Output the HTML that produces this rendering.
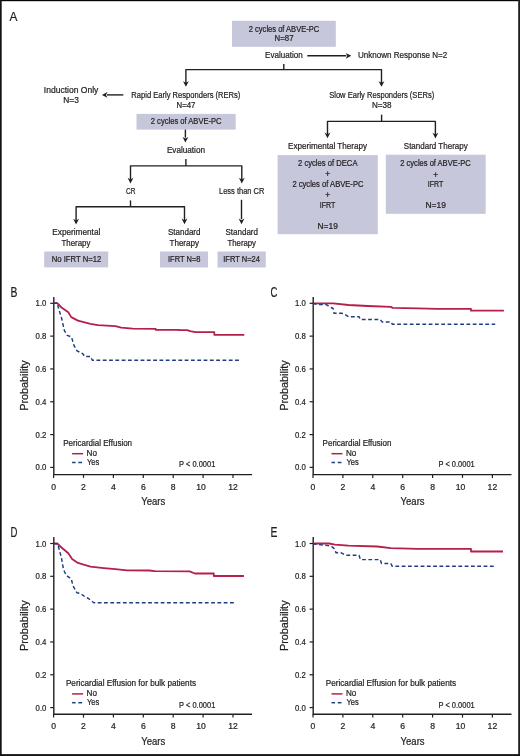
<!DOCTYPE html>
<html><head><meta charset="utf-8"><style>
html,body{margin:0;padding:0;background:#fff;}
body{width:520px;height:756px;overflow:hidden;}
svg{display:block;font-family:"Liberation Sans",sans-serif;will-change:transform;}
text{stroke:#231f20;stroke-width:0.22px;}
</style></head><body>
<svg width="520" height="756" viewBox="0 0 520 756">
<rect x="0" y="0" width="520" height="756" fill="#fff"/>
<text x="9.40" y="20.90" font-size="13" textLength="7.90" lengthAdjust="spacingAndGlyphs" fill="#231f20" >A</text>
<rect x="232.00" y="20.80" width="103.80" height="26.00" fill="#c6c7da"/>
<text x="248.80" y="31.60" font-size="8.4" textLength="70.40" lengthAdjust="spacingAndGlyphs" fill="#231f20" >2 cycles of ABVE-PC</text>
<text x="274.60" y="41.30" font-size="8.4" textLength="18.90" lengthAdjust="spacingAndGlyphs" fill="#231f20" >N=87</text>
<text x="265.10" y="58.20" font-size="8.4" textLength="37.60" lengthAdjust="spacingAndGlyphs" fill="#231f20" >Evaluation</text>
<line x1="307.30" y1="55.80" x2="346.30" y2="55.80" stroke="#231f20" stroke-width="1.4"/>
<polygon points="351.30,55.80 345.70,52.90 347.30,55.80 345.70,58.70" fill="#231f20"/>
<text x="358.00" y="58.30" font-size="8.4" textLength="89.30" lengthAdjust="spacingAndGlyphs" fill="#231f20" >Unknown Response N=2</text>
<line x1="283.80" y1="63.90" x2="283.80" y2="69.60" stroke="#231f20" stroke-width="1.4"/>
<polyline points="185.90,85.00 185.90,69.60 381.50,69.60 381.50,85.00" fill="none" stroke="#231f20" stroke-width="1.4" stroke-linejoin="round"/>
<polygon points="185.90,86.80 183.00,81.20 185.90,82.80 188.80,81.20" fill="#231f20"/>
<polygon points="381.50,86.80 378.60,81.20 381.50,82.80 384.40,81.20" fill="#231f20"/>
<text x="43.80" y="92.80" font-size="8.4" textLength="54.50" lengthAdjust="spacingAndGlyphs" fill="#231f20" >Induction Only</text>
<text x="71.00" y="102.80" font-size="8.4" text-anchor="middle" fill="#231f20" >N=3</text>
<line x1="123.30" y1="94.90" x2="106.90" y2="94.90" stroke="#231f20" stroke-width="1.4"/>
<polygon points="101.90,94.90 107.50,92.00 105.90,94.90 107.50,97.80" fill="#231f20"/>
<text x="131.30" y="98.00" font-size="8.4" textLength="109.10" lengthAdjust="spacingAndGlyphs" fill="#231f20" >Rapid Early Responders (RERs)</text>
<text x="176.50" y="107.80" font-size="8.4" textLength="18.90" lengthAdjust="spacingAndGlyphs" fill="#231f20" >N=47</text>
<rect x="136.50" y="113.90" width="99.20" height="15.70" fill="#c6c7da"/>
<text x="150.80" y="124.30" font-size="8.4" textLength="70.80" lengthAdjust="spacingAndGlyphs" fill="#231f20" >2 cycles of ABVE-PC</text>
<line x1="185.40" y1="129.60" x2="185.40" y2="137.60" stroke="#231f20" stroke-width="1.4"/>
<polygon points="185.40,142.60 182.50,137.00 185.40,138.60 188.30,137.00" fill="#231f20"/>
<text x="166.90" y="153.20" font-size="8.4" textLength="38.10" lengthAdjust="spacingAndGlyphs" fill="#231f20" >Evaluation</text>
<line x1="185.90" y1="158.90" x2="185.90" y2="165.90" stroke="#231f20" stroke-width="1.4"/>
<polyline points="130.50,181.00 130.50,165.90 241.80,165.90 241.80,181.00" fill="none" stroke="#231f20" stroke-width="1.4" stroke-linejoin="round"/>
<polygon points="130.50,183.40 127.60,177.80 130.50,179.40 133.40,177.80" fill="#231f20"/>
<polygon points="241.80,183.40 238.90,177.80 241.80,179.40 244.70,177.80" fill="#231f20"/>
<text x="125.90" y="194.00" font-size="8.4" textLength="9.50" lengthAdjust="spacingAndGlyphs" fill="#231f20" >CR</text>
<text x="219.00" y="194.40" font-size="8.4" textLength="45.40" lengthAdjust="spacingAndGlyphs" fill="#231f20" >Less than CR</text>
<line x1="130.50" y1="200.40" x2="130.50" y2="206.70" stroke="#231f20" stroke-width="1.4"/>
<polyline points="76.10,222.00 76.10,206.70 184.50,206.70 184.50,222.00" fill="none" stroke="#231f20" stroke-width="1.4" stroke-linejoin="round"/>
<polygon points="76.10,224.40 73.20,218.80 76.10,220.40 79.00,218.80" fill="#231f20"/>
<polygon points="184.50,224.20 181.60,218.60 184.50,220.20 187.40,218.60" fill="#231f20"/>
<line x1="241.50" y1="199.80" x2="241.50" y2="219.20" stroke="#231f20" stroke-width="1.4"/>
<polygon points="241.50,224.20 238.60,218.60 241.50,220.20 244.40,218.60" fill="#231f20"/>
<text x="52.30" y="235.20" font-size="8.4" textLength="48.00" lengthAdjust="spacingAndGlyphs" fill="#231f20" >Experimental</text>
<text x="61.50" y="245.60" font-size="8.4" textLength="28.90" lengthAdjust="spacingAndGlyphs" fill="#231f20" >Therapy</text>
<text x="168.00" y="235.30" font-size="8.4" textLength="32.50" lengthAdjust="spacingAndGlyphs" fill="#231f20" >Standard</text>
<text x="169.50" y="245.60" font-size="8.4" textLength="29.50" lengthAdjust="spacingAndGlyphs" fill="#231f20" >Therapy</text>
<text x="225.50" y="235.30" font-size="8.4" textLength="32.50" lengthAdjust="spacingAndGlyphs" fill="#231f20" >Standard</text>
<text x="227.50" y="245.60" font-size="8.4" textLength="28.50" lengthAdjust="spacingAndGlyphs" fill="#231f20" >Therapy</text>
<rect x="44.20" y="251.50" width="64.00" height="15.90" fill="#c6c7da"/>
<text x="51.80" y="262.00" font-size="8.4" textLength="49.40" lengthAdjust="spacingAndGlyphs" fill="#231f20" >No IFRT N=12</text>
<rect x="160.00" y="251.50" width="48.00" height="16.00" fill="#c6c7da"/>
<text x="168.00" y="262.30" font-size="8.4" textLength="32.50" lengthAdjust="spacingAndGlyphs" fill="#231f20" >IFRT N=8</text>
<rect x="217.50" y="251.50" width="48.25" height="16.00" fill="#c6c7da"/>
<text x="223.25" y="262.30" font-size="8.4" textLength="36.75" lengthAdjust="spacingAndGlyphs" fill="#231f20" >IFRT N=24</text>
<text x="329.20" y="98.00" font-size="8.4" textLength="105.00" lengthAdjust="spacingAndGlyphs" fill="#231f20" >Slow Early Responders (SERs)</text>
<text x="371.90" y="107.70" font-size="8.4" textLength="19.60" lengthAdjust="spacingAndGlyphs" fill="#231f20" >N=38</text>
<line x1="381.60" y1="114.60" x2="381.60" y2="121.40" stroke="#231f20" stroke-width="1.4"/>
<polyline points="327.50,136.00 327.50,121.40 435.40,121.40 435.40,136.00" fill="none" stroke="#231f20" stroke-width="1.4" stroke-linejoin="round"/>
<polygon points="327.50,138.20 324.60,132.60 327.50,134.20 330.40,132.60" fill="#231f20"/>
<polygon points="435.40,138.40 432.50,132.80 435.40,134.40 438.30,132.80" fill="#231f20"/>
<text x="288.00" y="149.10" font-size="8.4" textLength="79.00" lengthAdjust="spacingAndGlyphs" fill="#231f20" >Experimental Therapy</text>
<text x="403.80" y="149.00" font-size="8.4" textLength="63.90" lengthAdjust="spacingAndGlyphs" fill="#231f20" >Standard Therapy</text>
<rect x="277.60" y="155.10" width="100.20" height="79.10" fill="#c6c7da"/>
<text x="298.00" y="166.00" font-size="8.4" textLength="59.50" lengthAdjust="spacingAndGlyphs" fill="#231f20" >2 cycles of DECA</text>
<text x="327.70" y="177.30" font-size="8.4" text-anchor="middle" fill="#231f20" >+</text>
<text x="292.40" y="187.00" font-size="8.4" textLength="71.10" lengthAdjust="spacingAndGlyphs" fill="#231f20" >2 cycles of ABVE-PC</text>
<text x="327.70" y="198.10" font-size="8.4" text-anchor="middle" fill="#231f20" >+</text>
<text x="319.80" y="207.50" font-size="8.4" textLength="15.60" lengthAdjust="spacingAndGlyphs" fill="#231f20" >IFRT</text>
<text x="327.70" y="228.90" font-size="8.4" text-anchor="middle" fill="#231f20" >N=19</text>
<rect x="385.80" y="154.70" width="99.90" height="59.10" fill="#c6c7da"/>
<text x="400.30" y="166.30" font-size="8.4" textLength="70.40" lengthAdjust="spacingAndGlyphs" fill="#231f20" >2 cycles of ABVE-PC</text>
<text x="435.70" y="177.70" font-size="8.4" text-anchor="middle" fill="#231f20" >+</text>
<text x="427.80" y="186.60" font-size="8.4" textLength="15.60" lengthAdjust="spacingAndGlyphs" fill="#231f20" >IFRT</text>
<text x="435.70" y="207.90" font-size="8.4" text-anchor="middle" fill="#231f20" >N=19</text>
<text x="10.40" y="296.80" font-size="14.5" textLength="6.90" lengthAdjust="spacingAndGlyphs" fill="#231f20" >B</text>
<polyline points="53.80,297.00 53.80,474.60 252.10,474.60" fill="none" stroke="#231f20" stroke-width="1.4" stroke-linejoin="miter" stroke-linecap="butt"/>
<line x1="50.20" y1="467.40" x2="53.80" y2="467.40" stroke="#231f20" stroke-width="1.2"/>
<text x="35.60" y="470.40" font-size="8.6" textLength="10.80" lengthAdjust="spacingAndGlyphs" fill="#231f20" >0.0</text>
<line x1="50.20" y1="434.58" x2="53.80" y2="434.58" stroke="#231f20" stroke-width="1.2"/>
<text x="35.60" y="437.58" font-size="8.6" textLength="10.80" lengthAdjust="spacingAndGlyphs" fill="#231f20" >0.2</text>
<line x1="50.20" y1="401.76" x2="53.80" y2="401.76" stroke="#231f20" stroke-width="1.2"/>
<text x="35.60" y="404.76" font-size="8.6" textLength="10.80" lengthAdjust="spacingAndGlyphs" fill="#231f20" >0.4</text>
<line x1="50.20" y1="368.94" x2="53.80" y2="368.94" stroke="#231f20" stroke-width="1.2"/>
<text x="35.60" y="371.94" font-size="8.6" textLength="10.80" lengthAdjust="spacingAndGlyphs" fill="#231f20" >0.6</text>
<line x1="50.20" y1="336.12" x2="53.80" y2="336.12" stroke="#231f20" stroke-width="1.2"/>
<text x="35.60" y="339.12" font-size="8.6" textLength="10.80" lengthAdjust="spacingAndGlyphs" fill="#231f20" >0.8</text>
<line x1="50.20" y1="303.30" x2="53.80" y2="303.30" stroke="#231f20" stroke-width="1.2"/>
<text x="35.60" y="306.30" font-size="8.6" textLength="10.80" lengthAdjust="spacingAndGlyphs" fill="#231f20" >1.0</text>
<line x1="53.60" y1="474.60" x2="53.60" y2="477.90" stroke="#231f20" stroke-width="1.2"/>
<text x="53.60" y="489.50" font-size="8.6" text-anchor="middle" fill="#231f20" >0</text>
<line x1="83.50" y1="474.60" x2="83.50" y2="477.90" stroke="#231f20" stroke-width="1.2"/>
<text x="83.50" y="489.50" font-size="8.6" text-anchor="middle" fill="#231f20" >2</text>
<line x1="113.40" y1="474.60" x2="113.40" y2="477.90" stroke="#231f20" stroke-width="1.2"/>
<text x="113.40" y="489.50" font-size="8.6" text-anchor="middle" fill="#231f20" >4</text>
<line x1="143.30" y1="474.60" x2="143.30" y2="477.90" stroke="#231f20" stroke-width="1.2"/>
<text x="143.30" y="489.50" font-size="8.6" text-anchor="middle" fill="#231f20" >6</text>
<line x1="173.20" y1="474.60" x2="173.20" y2="477.90" stroke="#231f20" stroke-width="1.2"/>
<text x="173.20" y="489.50" font-size="8.6" text-anchor="middle" fill="#231f20" >8</text>
<line x1="203.10" y1="474.60" x2="203.10" y2="477.90" stroke="#231f20" stroke-width="1.2"/>
<text x="201.10" y="489.50" font-size="8.6" text-anchor="middle" fill="#231f20" >10</text>
<line x1="233.00" y1="474.60" x2="233.00" y2="477.90" stroke="#231f20" stroke-width="1.2"/>
<text x="233.00" y="489.50" font-size="8.6" text-anchor="middle" fill="#231f20" >12</text>
<text x="141.20" y="505.00" font-size="10.6" textLength="24.00" lengthAdjust="spacingAndGlyphs" fill="#231f20" >Years</text>
<text transform="translate(28.20,385.55) rotate(-90)" font-size="11" text-anchor="middle" fill="#231f20" textLength="50.6" lengthAdjust="spacingAndGlyphs">Probability</text>
<text x="63.20" y="446.10" font-size="8.4" textLength="68.90" lengthAdjust="spacingAndGlyphs" fill="#231f20" >Pericardial Effusion</text>
<line x1="72.10" y1="453.70" x2="83.10" y2="453.70" stroke="#b5204a" stroke-width="1.5"/>
<text x="86.60" y="455.80" font-size="8.4" textLength="10.40" lengthAdjust="spacingAndGlyphs" fill="#231f20" >No</text>
<line x1="72.10" y1="462.50" x2="75.60" y2="462.50" stroke="#203d82" stroke-width="1.5"/>
<line x1="78.30" y1="462.50" x2="82.10" y2="462.50" stroke="#203d82" stroke-width="1.5"/>
<text x="87.00" y="464.50" font-size="8.4" textLength="12.30" lengthAdjust="spacingAndGlyphs" fill="#231f20" >Yes</text>
<text x="179.10" y="467.30" font-size="8.4" textLength="36.20" lengthAdjust="spacingAndGlyphs" fill="#231f20" >P &lt; 0.0001</text>
<polyline points="53.80,303.20 57.30,303.20 61.50,307.50 68.30,312.30 71.20,317.10 77.90,320.60 90.40,323.80 98.00,325.20 115.40,326.20 121.20,327.70 132.70,328.60 155.70,328.80 155.70,329.80 179.20,329.80 179.20,330.20 187.30,330.20 190.00,331.20 195.40,332.10 214.30,332.10 214.30,334.80 244.30,334.80" fill="none" stroke="#b5204a" stroke-width="1.8" stroke-linejoin="round"/>
<polyline points="53.80,303.20 58.00,303.20 58.00,306.50 61.50,318.00 64.40,330.60 67.30,335.40 71.50,337.00 74.00,345.40 77.00,350.80 82.70,353.70 84.60,356.50 90.40,356.50 92.30,360.30 239.20,360.30" fill="none" stroke="#203d82" stroke-width="1.45" stroke-dasharray="3.8 2.5" stroke-dashoffset="0.4" stroke-linejoin="round"/>
<text x="270.60" y="296.80" font-size="14.5" textLength="6.90" lengthAdjust="spacingAndGlyphs" fill="#231f20" >C</text>
<polyline points="313.20,297.00 313.20,474.60 511.50,474.60" fill="none" stroke="#231f20" stroke-width="1.4" stroke-linejoin="miter" stroke-linecap="butt"/>
<line x1="309.60" y1="467.40" x2="313.20" y2="467.40" stroke="#231f20" stroke-width="1.2"/>
<text x="295.00" y="470.40" font-size="8.6" textLength="10.80" lengthAdjust="spacingAndGlyphs" fill="#231f20" >0.0</text>
<line x1="309.60" y1="434.58" x2="313.20" y2="434.58" stroke="#231f20" stroke-width="1.2"/>
<text x="295.00" y="437.58" font-size="8.6" textLength="10.80" lengthAdjust="spacingAndGlyphs" fill="#231f20" >0.2</text>
<line x1="309.60" y1="401.76" x2="313.20" y2="401.76" stroke="#231f20" stroke-width="1.2"/>
<text x="295.00" y="404.76" font-size="8.6" textLength="10.80" lengthAdjust="spacingAndGlyphs" fill="#231f20" >0.4</text>
<line x1="309.60" y1="368.94" x2="313.20" y2="368.94" stroke="#231f20" stroke-width="1.2"/>
<text x="295.00" y="371.94" font-size="8.6" textLength="10.80" lengthAdjust="spacingAndGlyphs" fill="#231f20" >0.6</text>
<line x1="309.60" y1="336.12" x2="313.20" y2="336.12" stroke="#231f20" stroke-width="1.2"/>
<text x="295.00" y="339.12" font-size="8.6" textLength="10.80" lengthAdjust="spacingAndGlyphs" fill="#231f20" >0.8</text>
<line x1="309.60" y1="303.30" x2="313.20" y2="303.30" stroke="#231f20" stroke-width="1.2"/>
<text x="295.00" y="306.30" font-size="8.6" textLength="10.80" lengthAdjust="spacingAndGlyphs" fill="#231f20" >1.0</text>
<line x1="313.00" y1="474.60" x2="313.00" y2="477.90" stroke="#231f20" stroke-width="1.2"/>
<text x="313.00" y="489.50" font-size="8.6" text-anchor="middle" fill="#231f20" >0</text>
<line x1="342.90" y1="474.60" x2="342.90" y2="477.90" stroke="#231f20" stroke-width="1.2"/>
<text x="342.90" y="489.50" font-size="8.6" text-anchor="middle" fill="#231f20" >2</text>
<line x1="372.80" y1="474.60" x2="372.80" y2="477.90" stroke="#231f20" stroke-width="1.2"/>
<text x="372.80" y="489.50" font-size="8.6" text-anchor="middle" fill="#231f20" >4</text>
<line x1="402.70" y1="474.60" x2="402.70" y2="477.90" stroke="#231f20" stroke-width="1.2"/>
<text x="402.70" y="489.50" font-size="8.6" text-anchor="middle" fill="#231f20" >6</text>
<line x1="432.60" y1="474.60" x2="432.60" y2="477.90" stroke="#231f20" stroke-width="1.2"/>
<text x="432.60" y="489.50" font-size="8.6" text-anchor="middle" fill="#231f20" >8</text>
<line x1="462.50" y1="474.60" x2="462.50" y2="477.90" stroke="#231f20" stroke-width="1.2"/>
<text x="460.50" y="489.50" font-size="8.6" text-anchor="middle" fill="#231f20" >10</text>
<line x1="492.40" y1="474.60" x2="492.40" y2="477.90" stroke="#231f20" stroke-width="1.2"/>
<text x="492.40" y="489.50" font-size="8.6" text-anchor="middle" fill="#231f20" >12</text>
<text x="400.60" y="505.00" font-size="10.6" textLength="24.00" lengthAdjust="spacingAndGlyphs" fill="#231f20" >Years</text>
<text transform="translate(288.40,385.55) rotate(-90)" font-size="11" text-anchor="middle" fill="#231f20" textLength="50.6" lengthAdjust="spacingAndGlyphs">Probability</text>
<text x="322.60" y="446.10" font-size="8.4" textLength="68.90" lengthAdjust="spacingAndGlyphs" fill="#231f20" >Pericardial Effusion</text>
<line x1="331.50" y1="453.70" x2="342.50" y2="453.70" stroke="#b5204a" stroke-width="1.5"/>
<text x="346.00" y="455.80" font-size="8.4" textLength="10.40" lengthAdjust="spacingAndGlyphs" fill="#231f20" >No</text>
<line x1="331.50" y1="462.50" x2="335.00" y2="462.50" stroke="#203d82" stroke-width="1.5"/>
<line x1="337.70" y1="462.50" x2="341.50" y2="462.50" stroke="#203d82" stroke-width="1.5"/>
<text x="346.40" y="464.50" font-size="8.4" textLength="12.30" lengthAdjust="spacingAndGlyphs" fill="#231f20" >Yes</text>
<text x="438.50" y="467.30" font-size="8.4" textLength="36.20" lengthAdjust="spacingAndGlyphs" fill="#231f20" >P &lt; 0.0001</text>
<polyline points="313.20,303.30 333.10,303.30 348.50,305.00 367.70,306.00 390.80,306.90 392.70,307.90 417.70,308.30 437.90,308.80 471.00,308.80 471.00,310.70 503.90,310.70" fill="none" stroke="#b5204a" stroke-width="1.8" stroke-linejoin="round"/>
<polyline points="313.20,303.50 317.70,304.60 326.30,304.60 329.20,306.50 333.10,308.50 334.00,313.30 341.70,313.30 345.60,314.80 348.50,316.70 359.00,316.70 360.40,319.40 380.20,319.40 382.10,321.90 390.80,321.90 392.30,324.20 495.20,324.20" fill="none" stroke="#203d82" stroke-width="1.45" stroke-dasharray="3.8 2.5" stroke-dashoffset="0.4" stroke-linejoin="round"/>
<text x="10.40" y="536.80" font-size="14.5" textLength="6.90" lengthAdjust="spacingAndGlyphs" fill="#231f20" >D</text>
<polyline points="53.80,537.00 53.80,714.30 252.10,714.30" fill="none" stroke="#231f20" stroke-width="1.4" stroke-linejoin="miter" stroke-linecap="butt"/>
<line x1="50.20" y1="707.60" x2="53.80" y2="707.60" stroke="#231f20" stroke-width="1.2"/>
<text x="35.60" y="710.60" font-size="8.6" textLength="10.80" lengthAdjust="spacingAndGlyphs" fill="#231f20" >0.0</text>
<line x1="50.20" y1="674.78" x2="53.80" y2="674.78" stroke="#231f20" stroke-width="1.2"/>
<text x="35.60" y="677.78" font-size="8.6" textLength="10.80" lengthAdjust="spacingAndGlyphs" fill="#231f20" >0.2</text>
<line x1="50.20" y1="641.96" x2="53.80" y2="641.96" stroke="#231f20" stroke-width="1.2"/>
<text x="35.60" y="644.96" font-size="8.6" textLength="10.80" lengthAdjust="spacingAndGlyphs" fill="#231f20" >0.4</text>
<line x1="50.20" y1="609.14" x2="53.80" y2="609.14" stroke="#231f20" stroke-width="1.2"/>
<text x="35.60" y="612.14" font-size="8.6" textLength="10.80" lengthAdjust="spacingAndGlyphs" fill="#231f20" >0.6</text>
<line x1="50.20" y1="576.32" x2="53.80" y2="576.32" stroke="#231f20" stroke-width="1.2"/>
<text x="35.60" y="579.32" font-size="8.6" textLength="10.80" lengthAdjust="spacingAndGlyphs" fill="#231f20" >0.8</text>
<line x1="50.20" y1="543.50" x2="53.80" y2="543.50" stroke="#231f20" stroke-width="1.2"/>
<text x="35.60" y="546.50" font-size="8.6" textLength="10.80" lengthAdjust="spacingAndGlyphs" fill="#231f20" >1.0</text>
<line x1="53.60" y1="714.30" x2="53.60" y2="717.60" stroke="#231f20" stroke-width="1.2"/>
<text x="53.60" y="729.20" font-size="8.6" text-anchor="middle" fill="#231f20" >0</text>
<line x1="83.50" y1="714.30" x2="83.50" y2="717.60" stroke="#231f20" stroke-width="1.2"/>
<text x="83.50" y="729.20" font-size="8.6" text-anchor="middle" fill="#231f20" >2</text>
<line x1="113.40" y1="714.30" x2="113.40" y2="717.60" stroke="#231f20" stroke-width="1.2"/>
<text x="113.40" y="729.20" font-size="8.6" text-anchor="middle" fill="#231f20" >4</text>
<line x1="143.30" y1="714.30" x2="143.30" y2="717.60" stroke="#231f20" stroke-width="1.2"/>
<text x="143.30" y="729.20" font-size="8.6" text-anchor="middle" fill="#231f20" >6</text>
<line x1="173.20" y1="714.30" x2="173.20" y2="717.60" stroke="#231f20" stroke-width="1.2"/>
<text x="173.20" y="729.20" font-size="8.6" text-anchor="middle" fill="#231f20" >8</text>
<line x1="203.10" y1="714.30" x2="203.10" y2="717.60" stroke="#231f20" stroke-width="1.2"/>
<text x="201.10" y="729.20" font-size="8.6" text-anchor="middle" fill="#231f20" >10</text>
<line x1="233.00" y1="714.30" x2="233.00" y2="717.60" stroke="#231f20" stroke-width="1.2"/>
<text x="233.00" y="729.20" font-size="8.6" text-anchor="middle" fill="#231f20" >12</text>
<text x="141.20" y="744.70" font-size="10.6" textLength="24.00" lengthAdjust="spacingAndGlyphs" fill="#231f20" >Years</text>
<text transform="translate(28.20,625.75) rotate(-90)" font-size="11" text-anchor="middle" fill="#231f20" textLength="50.6" lengthAdjust="spacingAndGlyphs">Probability</text>
<text x="65.90" y="686.30" font-size="8.4" textLength="130.10" lengthAdjust="spacingAndGlyphs" fill="#231f20" >Pericardial Effusion for bulk patients</text>
<line x1="72.10" y1="693.90" x2="83.10" y2="693.90" stroke="#b5204a" stroke-width="1.5"/>
<text x="86.60" y="696.00" font-size="8.4" textLength="10.40" lengthAdjust="spacingAndGlyphs" fill="#231f20" >No</text>
<line x1="72.10" y1="702.70" x2="75.60" y2="702.70" stroke="#203d82" stroke-width="1.5"/>
<line x1="78.30" y1="702.70" x2="82.10" y2="702.70" stroke="#203d82" stroke-width="1.5"/>
<text x="87.00" y="704.70" font-size="8.4" textLength="12.30" lengthAdjust="spacingAndGlyphs" fill="#231f20" >Yes</text>
<text x="179.10" y="707.50" font-size="8.4" textLength="36.20" lengthAdjust="spacingAndGlyphs" fill="#231f20" >P &lt; 0.0001</text>
<polyline points="53.80,543.50 57.30,543.50 61.50,547.50 68.30,553.30 72.10,559.00 77.90,562.90 90.40,566.70 103.80,568.10 115.40,569.20 126.90,570.30 149.20,570.50 155.00,571.20 189.60,571.40 194.90,573.50 213.80,573.50 213.80,576.00 243.90,576.00" fill="none" stroke="#b5204a" stroke-width="1.8" stroke-linejoin="round"/>
<polyline points="53.80,543.50 57.50,544.00 58.70,547.50 61.50,558.00 63.50,569.60 66.30,575.40 71.20,578.80 73.10,586.00 76.90,592.70 80.80,593.70 84.60,596.50 88.50,598.50 93.80,602.80 234.60,602.80" fill="none" stroke="#203d82" stroke-width="1.45" stroke-dasharray="3.8 2.5" stroke-dashoffset="0.4" stroke-linejoin="round"/>
<text x="270.60" y="536.80" font-size="14.5" textLength="6.90" lengthAdjust="spacingAndGlyphs" fill="#231f20" >E</text>
<polyline points="313.20,537.00 313.20,714.30 511.50,714.30" fill="none" stroke="#231f20" stroke-width="1.4" stroke-linejoin="miter" stroke-linecap="butt"/>
<line x1="309.60" y1="707.60" x2="313.20" y2="707.60" stroke="#231f20" stroke-width="1.2"/>
<text x="295.00" y="710.60" font-size="8.6" textLength="10.80" lengthAdjust="spacingAndGlyphs" fill="#231f20" >0.0</text>
<line x1="309.60" y1="674.78" x2="313.20" y2="674.78" stroke="#231f20" stroke-width="1.2"/>
<text x="295.00" y="677.78" font-size="8.6" textLength="10.80" lengthAdjust="spacingAndGlyphs" fill="#231f20" >0.2</text>
<line x1="309.60" y1="641.96" x2="313.20" y2="641.96" stroke="#231f20" stroke-width="1.2"/>
<text x="295.00" y="644.96" font-size="8.6" textLength="10.80" lengthAdjust="spacingAndGlyphs" fill="#231f20" >0.4</text>
<line x1="309.60" y1="609.14" x2="313.20" y2="609.14" stroke="#231f20" stroke-width="1.2"/>
<text x="295.00" y="612.14" font-size="8.6" textLength="10.80" lengthAdjust="spacingAndGlyphs" fill="#231f20" >0.6</text>
<line x1="309.60" y1="576.32" x2="313.20" y2="576.32" stroke="#231f20" stroke-width="1.2"/>
<text x="295.00" y="579.32" font-size="8.6" textLength="10.80" lengthAdjust="spacingAndGlyphs" fill="#231f20" >0.8</text>
<line x1="309.60" y1="543.50" x2="313.20" y2="543.50" stroke="#231f20" stroke-width="1.2"/>
<text x="295.00" y="546.50" font-size="8.6" textLength="10.80" lengthAdjust="spacingAndGlyphs" fill="#231f20" >1.0</text>
<line x1="313.00" y1="714.30" x2="313.00" y2="717.60" stroke="#231f20" stroke-width="1.2"/>
<text x="313.00" y="729.20" font-size="8.6" text-anchor="middle" fill="#231f20" >0</text>
<line x1="342.90" y1="714.30" x2="342.90" y2="717.60" stroke="#231f20" stroke-width="1.2"/>
<text x="342.90" y="729.20" font-size="8.6" text-anchor="middle" fill="#231f20" >2</text>
<line x1="372.80" y1="714.30" x2="372.80" y2="717.60" stroke="#231f20" stroke-width="1.2"/>
<text x="372.80" y="729.20" font-size="8.6" text-anchor="middle" fill="#231f20" >4</text>
<line x1="402.70" y1="714.30" x2="402.70" y2="717.60" stroke="#231f20" stroke-width="1.2"/>
<text x="402.70" y="729.20" font-size="8.6" text-anchor="middle" fill="#231f20" >6</text>
<line x1="432.60" y1="714.30" x2="432.60" y2="717.60" stroke="#231f20" stroke-width="1.2"/>
<text x="432.60" y="729.20" font-size="8.6" text-anchor="middle" fill="#231f20" >8</text>
<line x1="462.50" y1="714.30" x2="462.50" y2="717.60" stroke="#231f20" stroke-width="1.2"/>
<text x="460.50" y="729.20" font-size="8.6" text-anchor="middle" fill="#231f20" >10</text>
<line x1="492.40" y1="714.30" x2="492.40" y2="717.60" stroke="#231f20" stroke-width="1.2"/>
<text x="492.40" y="729.20" font-size="8.6" text-anchor="middle" fill="#231f20" >12</text>
<text x="400.60" y="744.70" font-size="10.6" textLength="24.00" lengthAdjust="spacingAndGlyphs" fill="#231f20" >Years</text>
<text transform="translate(288.40,625.75) rotate(-90)" font-size="11" text-anchor="middle" fill="#231f20" textLength="50.6" lengthAdjust="spacingAndGlyphs">Probability</text>
<text x="325.70" y="686.30" font-size="8.4" textLength="130.40" lengthAdjust="spacingAndGlyphs" fill="#231f20" >Pericardial Effusion for bulk patients</text>
<line x1="331.50" y1="693.90" x2="342.50" y2="693.90" stroke="#b5204a" stroke-width="1.5"/>
<text x="346.00" y="696.00" font-size="8.4" textLength="10.40" lengthAdjust="spacingAndGlyphs" fill="#231f20" >No</text>
<line x1="331.50" y1="702.70" x2="335.00" y2="702.70" stroke="#203d82" stroke-width="1.5"/>
<line x1="337.70" y1="702.70" x2="341.50" y2="702.70" stroke="#203d82" stroke-width="1.5"/>
<text x="346.40" y="704.70" font-size="8.4" textLength="12.30" lengthAdjust="spacingAndGlyphs" fill="#231f20" >Yes</text>
<text x="438.50" y="707.50" font-size="8.4" textLength="36.20" lengthAdjust="spacingAndGlyphs" fill="#231f20" >P &lt; 0.0001</text>
<polyline points="313.20,543.50 329.20,543.50 335.00,544.60 348.50,545.60 377.30,546.50 390.80,548.10 417.70,548.80 471.00,548.80 471.00,551.50 503.00,551.50" fill="none" stroke="#b5204a" stroke-width="1.8" stroke-linejoin="round"/>
<polyline points="313.20,544.00 328.30,545.60 332.10,546.90 335.00,549.40 336.00,552.70 340.80,552.70 343.70,554.20 346.50,555.20 359.00,555.20 360.40,559.60 380.20,559.60 381.50,563.50 390.80,563.50 392.30,566.30 495.80,566.30" fill="none" stroke="#203d82" stroke-width="1.45" stroke-dasharray="3.8 2.5" stroke-dashoffset="0.4" stroke-linejoin="round"/>
<rect x="0" y="0" width="520" height="1.2" fill="#050505"/>
<rect x="0" y="0" width="1.7" height="756" fill="#151515"/>
<rect x="518.2" y="0" width="1.8" height="756" fill="#202020"/>
<rect x="0" y="754.1" width="520" height="1.9" fill="#151515"/>
</svg>
</body></html>
